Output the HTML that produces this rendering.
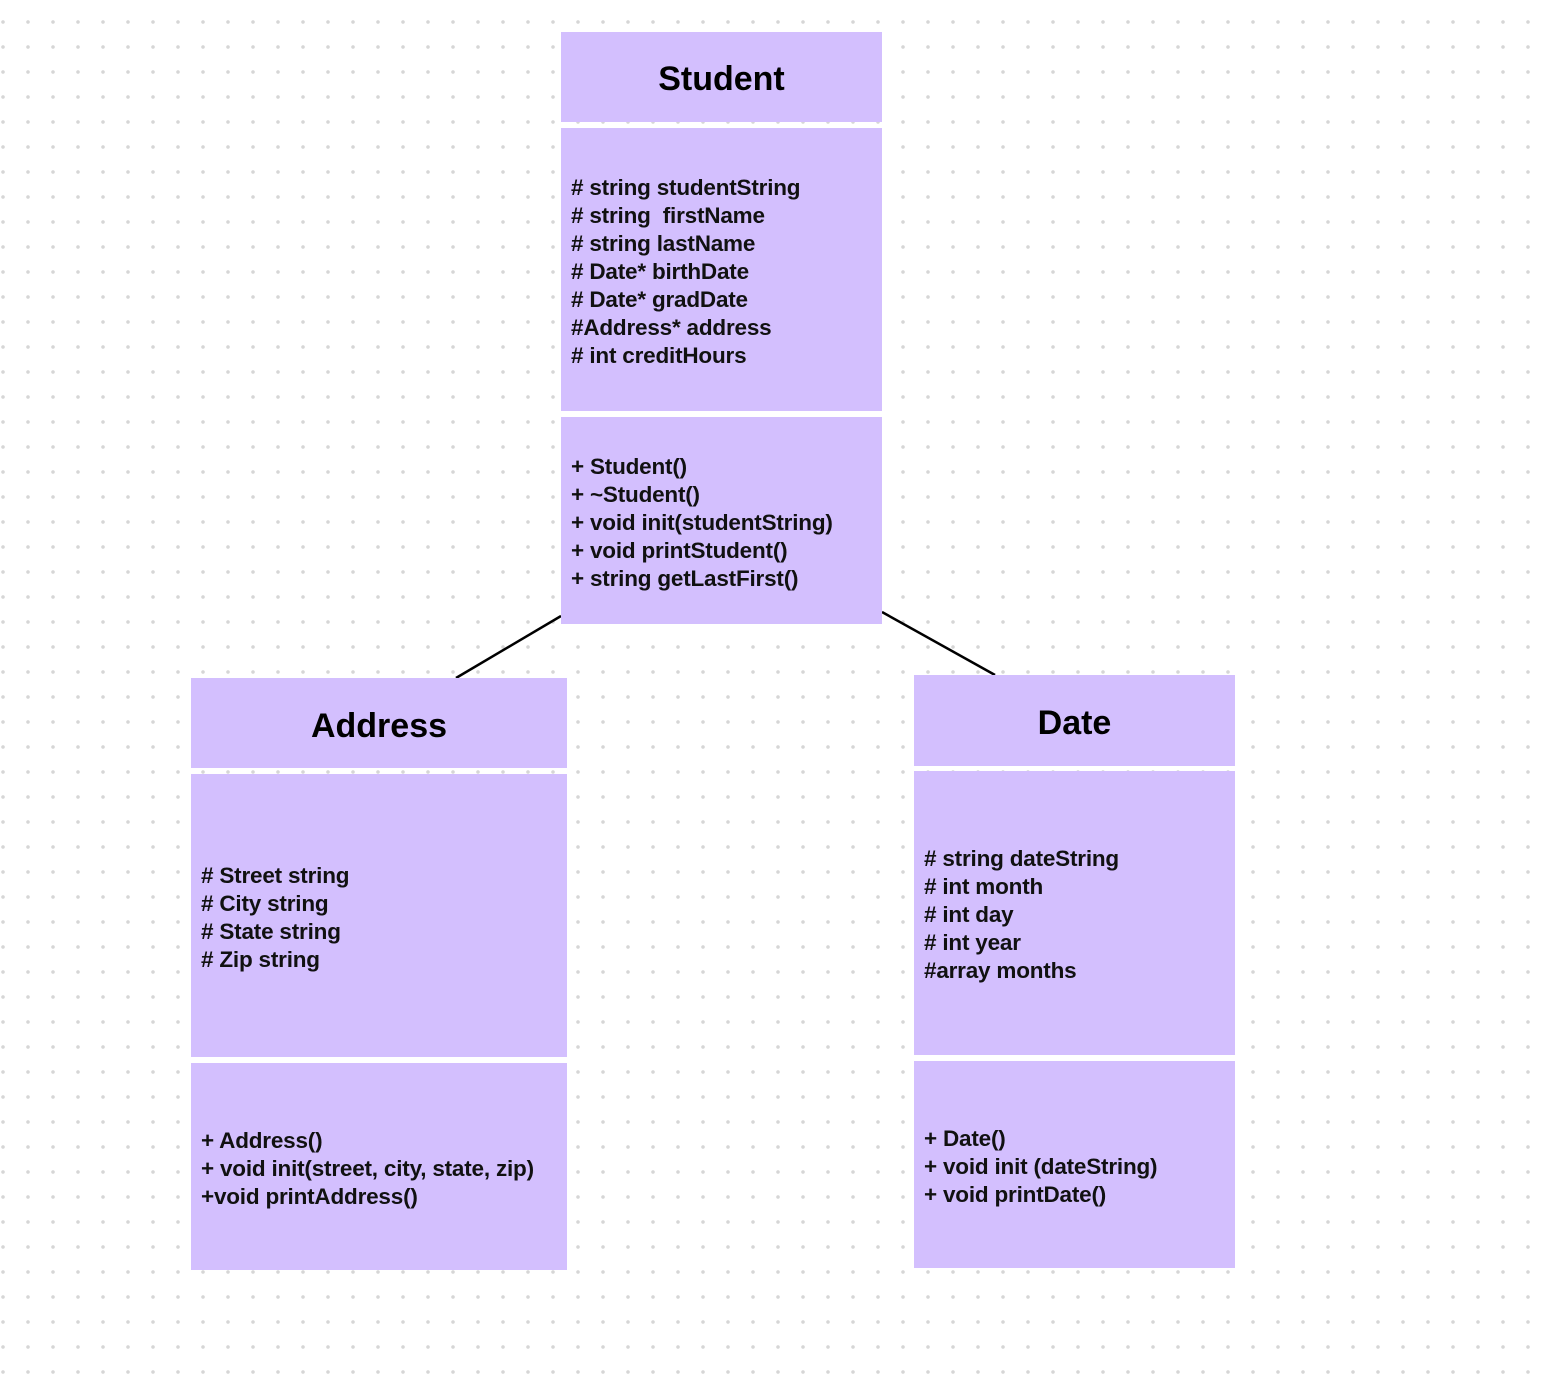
<!DOCTYPE html>
<html><head><meta charset="utf-8"><style>
body{margin:0;width:1546px;height:1374px;position:relative;overflow:hidden;background:#fff;
background-image:radial-gradient(circle,#d6d6d6 1.6px,transparent 2px);background-size:25px 25px;background-position:-9.5px 9.5px;
font-family:"Liberation Sans",sans-serif;}
.b{position:absolute;background:#d3bffe}
.t{position:absolute;font-size:34px;font-weight:bold;text-align:center;line-height:90px}
.x{position:absolute;font-size:22.5px;font-weight:bold;line-height:28px;white-space:pre;color:#111;letter-spacing:-0.2px}
</style></head><body>
<svg width="1546" height="1374" style="position:absolute;left:0;top:0">
<line x1="561" y1="616" x2="456" y2="678" stroke="#000" stroke-width="2.5"/>
<line x1="882" y1="612" x2="995" y2="675" stroke="#000" stroke-width="2.5"/>
</svg>
<div class="b" style="left:561px;top:32px;width:321px;height:90px"></div>
<div class="b" style="left:561px;top:128px;width:321px;height:283px"></div>
<div class="b" style="left:561px;top:417px;width:321px;height:207px"></div>
<div class="t" style="left:561px;top:34px;width:321px">Student</div>
<div class="x" style="left:571px;top:174px"># string studentString
# string  firstName
# string lastName
# Date* birthDate
# Date* gradDate
#Address* address
# int creditHours</div>
<div class="x" style="left:571px;top:453px">+ Student()
+ ~Student()
+ void init(studentString)
+ void printStudent()
+ string getLastFirst()</div>

<div class="b" style="left:191px;top:678px;width:376px;height:90px"></div>
<div class="b" style="left:191px;top:774px;width:376px;height:283px"></div>
<div class="b" style="left:191px;top:1063px;width:376px;height:207px"></div>
<div class="t" style="left:191px;top:681px;width:376px">Address</div>
<div class="x" style="left:201px;top:862px"># Street string
# City string
# State string
# Zip string</div>
<div class="x" style="left:201px;top:1127px">+ Address()
+ void init(street, city, state, zip)
+void printAddress()</div>

<div class="b" style="left:914px;top:675px;width:321px;height:91px"></div>
<div class="b" style="left:914px;top:771px;width:321px;height:284px"></div>
<div class="b" style="left:914px;top:1061px;width:321px;height:207px"></div>
<div class="t" style="left:914px;top:678px;width:321px">Date</div>
<div class="x" style="left:924px;top:845px"># string dateString
# int month
# int day
# int year
#array months</div>
<div class="x" style="left:924px;top:1125px">+ Date()
+ void init (dateString)
+ void printDate()</div>
</body></html>
